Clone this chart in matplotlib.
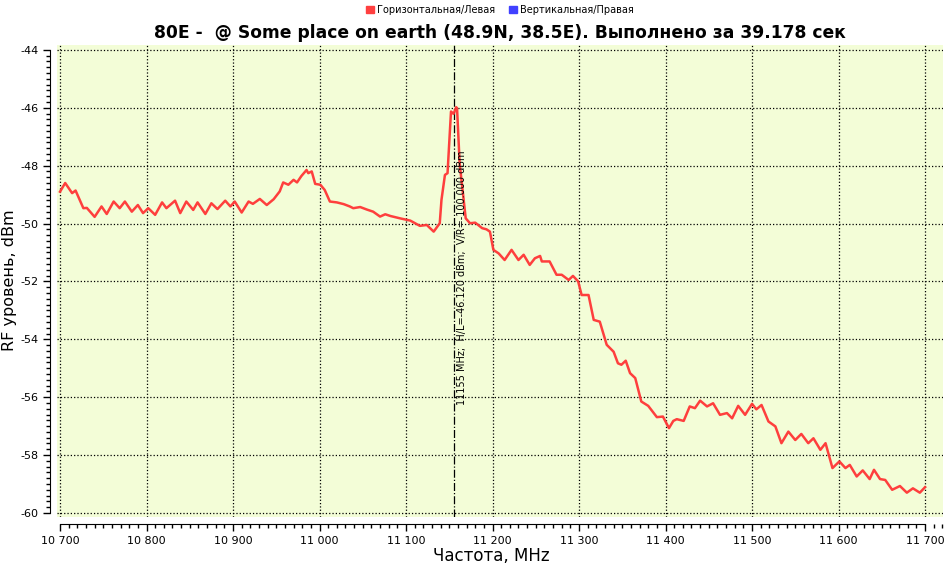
import matplotlib
matplotlib.use("Agg")
import matplotlib.pyplot as plt
from matplotlib.patches import Patch
from matplotlib.ticker import MultipleLocator, FuncFormatter

plt.rcParams["axes.unicode_minus"] = False

# spectrum trace (horizontal / left polarisation)
freq_mhz = [10700, 10706, 10714, 10718, 10727, 10731, 10740, 10748, 10754, 10762,
            10769, 10775, 10783, 10790, 10796, 10802, 10810, 10818, 10823, 10833,
            10839, 10846, 10854, 10859, 10868, 10875, 10882, 10891, 10897, 10902, 10910,
            10918, 10923, 10931, 10939, 10947, 10954, 10958, 10964, 10970, 10974,
            10979, 10985, 10987, 10991, 10995, 11001, 11006, 11012, 11020, 11028,
            11035, 11039, 11047, 11055, 11062, 11070, 11076, 11082, 11093, 11105, 11116, 11124,
            11132, 11139, 11141, 11145, 11148, 11152, 11155, 11158, 11159, 11162,
            11169, 11174, 11180, 11188, 11193, 11197, 11201, 11207, 11214, 11222,
            11230, 11236, 11243, 11249, 11255, 11257, 11266, 11274, 11280, 11288,
            11293, 11299, 11303, 11311, 11317, 11324, 11332, 11340, 11345, 11349,
            11354, 11359, 11365, 11372, 11380, 11390, 11397, 11404, 11409, 11413,
            11421, 11428, 11434, 11440, 11448, 11455, 11463, 11471, 11477, 11484,
            11492, 11500, 11505, 11511, 11519, 11527, 11534, 11542, 11550, 11557,
            11565, 11571, 11579, 11585, 11593, 11601, 11608, 11613, 11621, 11628,
            11636, 11641, 11648, 11654, 11662, 11671, 11679, 11686, 11694, 11700]
level_dbm = [-48.90, -48.60, -48.95, -48.86, -49.47, -49.46, -49.77, -49.41, -49.67, -49.24,
             -49.47, -49.24, -49.59, -49.36, -49.64, -49.47, -49.70, -49.27, -49.47, -49.21,
             -49.64, -49.24, -49.53, -49.27, -49.67, -49.30, -49.50, -49.21, -49.41, -49.24, -49.62,
             -49.24, -49.32, -49.15, -49.36, -49.16, -48.89, -48.58, -48.66, -48.49, -48.58,
             -48.36, -48.15, -48.26, -48.20, -48.63, -48.66, -48.84, -49.24, -49.27, -49.33,
             -49.41, -49.47, -49.43, -49.52, -49.59, -49.76, -49.68, -49.74, -49.82, -49.90, -50.08, -50.05,
             -50.28, -49.99, -49.18, -48.32, -48.26, -46.13, -46.21, -45.98, -46.02, -47.92,
             -49.82, -49.99, -49.97, -50.16, -50.20, -50.28, -50.91, -51.03, -51.26, -50.91,
             -51.26, -51.08, -51.43, -51.20, -51.12, -51.31, -51.31, -51.77, -51.77, -51.95,
             -51.81, -52.00, -52.47, -52.47, -53.33, -53.39, -54.19, -54.43, -54.83, -54.88,
             -54.74, -55.17, -55.34, -56.15, -56.30, -56.69, -56.67, -57.07, -56.82, -56.76,
             -56.82, -56.32, -56.38, -56.12, -56.32, -56.21, -56.61, -56.55, -56.73, -56.30,
             -56.61, -56.23, -56.42, -56.27, -56.84, -57.01, -57.59, -57.19, -57.48, -57.27,
             -57.59, -57.42, -57.82, -57.59, -58.45, -58.22, -58.45, -58.34, -58.74, -58.53,
             -58.83, -58.51, -58.83, -58.86, -59.20, -59.07, -59.30, -59.15, -59.30, -59.11]

marker_freq = 11155
marker_label = "11155 MHz;  H/L=-46.120 dBm;  V/R=-100.000 dBm"
series_names = ["Горизонтальная/Левая", "Вертикальная/Правая"]
series_colors = ["#ff4040", "#4040ff"]
title = "80E -  @ Some place on earth (48.9N, 38.5E). Выполнено за 39.178 сек"


def thousands(v, pos):
    return "{:,}".format(int(round(v))).replace(",", " ")


fig = plt.figure(figsize=(9.45, 5.67), dpi=100)
ax = fig.add_axes([0.0603, 0.0882, 0.9376, 0.8325])
ax.set_facecolor("#f3fdd7")

ax.plot(freq_mhz, level_dbm, color="#ff3535", linewidth=1.8, alpha=0.95, zorder=3)
ax.axvline(marker_freq, color="black", linestyle="-.", linewidth=0.9, zorder=2)
ax.text(marker_freq + 4, -56.28, marker_label, rotation=90, ha="left", va="bottom",
        fontsize=7, zorder=4)

ax.set_xlim(10696.5, 11720.8)
ax.set_ylim(-60.14, -43.83)
ax.xaxis.set_major_locator(MultipleLocator(100))
ax.xaxis.set_minor_locator(MultipleLocator(10))
ax.yaxis.set_major_locator(MultipleLocator(2))
ax.yaxis.set_minor_locator(MultipleLocator(0.2))
ax.xaxis.set_major_formatter(FuncFormatter(thousands))

ax.grid(which="major", color="black", linestyle=":", linewidth=0.9, zorder=1)
ax.set_axisbelow(True)

for side in ["top", "right"]:
    ax.spines[side].set_visible(False)
ax.spines["left"].set_position(("outward", 5))
ax.spines["bottom"].set_position(("outward", 5))
ax.spines["left"].set_bounds(-60, -44)
ax.spines["bottom"].set_bounds(10700, 11700)
ax.tick_params(which="major", direction="out", length=5, width=1, labelsize=8)
ax.tick_params(which="minor", direction="out", length=3, width=1)

fig.text(0.529, 1 - 33 / 567, title, ha="center", va="center",
         fontsize=12.3, fontweight="bold")
fig.text(0.52, 1 - 556 / 567, "Частота, MHz", ha="center", va="center", fontsize=12)
fig.text(10 / 945, 1 - 280 / 567, "RF уровень, dBm", ha="center", va="center",
         rotation=90, fontsize=11.5)

handles = [Patch(facecolor=c, edgecolor=c, label=n) for n, c in zip(series_names, series_colors)]
fig.legend(handles=handles, loc="center", bbox_to_anchor=(0.529, 1 - 10 / 567), ncol=2,
           frameon=False, fontsize=7, handlelength=0.8, handleheight=0.8,
           handletextpad=0.3, columnspacing=1.5)

fig.savefig("out.png", dpi=100)
